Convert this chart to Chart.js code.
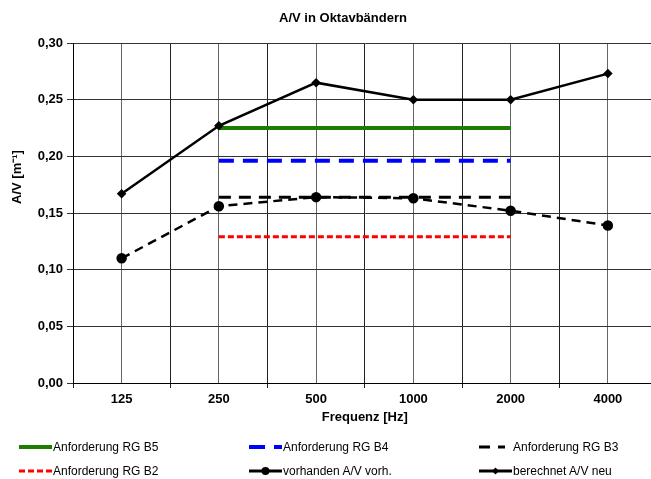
<!DOCTYPE html>
<html>
<head>
<meta charset="utf-8">
<script src="https://cdn.jsdelivr.net/npm/chart.js@4"></script>
<style>
  html, body { margin: 0; padding: 0; background: #fff; overflow: hidden; width: 651px; height: 479px; }
  #wrap { position: relative; width: 663px; height: 479px; }
  .leg { position: absolute; font: 12px "Liberation Sans", Arial, sans-serif; color: #000; display: flex; align-items: center; white-space: nowrap; }
  .leg svg { margin-right: 1px; }
</style>
</head>
<body>
<div id="wrap">
  <canvas id="avChart" width="663" height="479"></canvas>
  <div id="legend"></div>
</div>
<script>
// Frequenzbänder und Werte
const categories = ["125", "250", "500", "1000", "2000", "4000"];
const berechnetNeu = [0.167, 0.227, 0.265, 0.250, 0.250, 0.273];
const vorhandenVorh = [0.110, 0.156, 0.164, 0.163, 0.152, 0.139];
const rgB5 = [null, 0.225, 0.225, 0.225, 0.225, null];
const rgB4 = [null, 0.196, 0.196, 0.196, 0.196, null];
const rgB3 = [null, 0.164, 0.164, 0.164, 0.164, null];
const rgB2 = [null, 0.129, 0.129, 0.129, 0.129, null];

const toPoints = vals => categories.map((c, i) => ({ x: i, y: vals[i] }));
const FONT = "'Liberation Sans', Arial, sans-serif";

// Titel und Y-Achsentitel selbst zeichnen
const titlePlugin = {
    id: "titles",
    afterDraw(chart) {
        const ctx = chart.ctx;
        ctx.save();
        ctx.fillStyle = "#000";
        ctx.font = "bold 13px " + FONT;
        ctx.textAlign = "center";
        ctx.textBaseline = "middle";
        ctx.fillText("A/V in Oktavbändern", 343, 18);
        ctx.translate(17, 177);
        ctx.rotate(-Math.PI / 2);
        ctx.fillText("A/V [m⁻¹]", 0, 0);
        ctx.restore();
    }
};

const ctx = document.getElementById("avChart").getContext("2d");
new Chart(ctx, {
    type: "line",
    data: {
        datasets: [
            {
                label: "berechnet A/V neu",
                data: toPoints(berechnetNeu),
                borderColor: "#000",
                backgroundColor: "#000",
                borderWidth: 2.5,
                pointStyle: "rectRot",
                pointRadius: 3,
                tension: 0,
            },
            {
                label: "vorhanden A/V vorh.",
                data: toPoints(vorhandenVorh),
                borderColor: "#000",
                backgroundColor: "#000",
                borderWidth: 2.5,
                borderDash: [9, 6],
                pointStyle: "circle",
                pointRadius: 4,
                tension: 0,
            },
            {
                label: "Anforderung RG B5",
                data: toPoints(rgB5),
                borderColor: "#1e7d00",
                borderWidth: 4,
                pointRadius: 0,
            },
            {
                label: "Anforderung RG B4",
                data: toPoints(rgB4),
                borderColor: "#0000ff",
                borderWidth: 4,
                borderDash: [15, 9],
                pointRadius: 0,
            },
            {
                label: "Anforderung RG B3",
                data: toPoints(rgB3),
                borderColor: "#000",
                borderWidth: 3,
                borderDash: [12, 8],
                pointRadius: 0,
            },
            {
                label: "Anforderung RG B2",
                data: toPoints(rgB2),
                borderColor: "#ff0000",
                borderWidth: 3,
                borderDash: [6, 3],
                pointRadius: 0,
            },
        ],
    },
    options: {
        responsive: false,
        animation: false,
        layout: { padding: { left: 0, top: 43, right: 4, bottom: 46 } },
        plugins: {
            legend: { display: false },
            title: { display: false },
            tooltip: { enabled: false },
        },
        scales: {
            x: {
                type: "linear",
                min: -0.5,
                max: 5.5,
                afterFit: scale => { scale.height = 50; },
                ticks: {
                    stepSize: 0.5,
                    autoSkip: false,
                    maxRotation: 0,
                    padding: 4,
                    color: "#000",
                    font: { family: FONT, size: 13, weight: "bold" },
                    callback: v => Number.isInteger(v) ? categories[v] : "",
                },
                grid: {
                    color: c => c.tick && Number.isInteger(c.tick.value) ? "#666" : "#222",
                    tickColor: c => c.tick && Number.isInteger(c.tick.value) ? "rgba(0,0,0,0)" : "#222",
                    tickLength: 5,
                },
                border: { color: "#000" },
                title: {
                    display: true,
                    text: "Frequenz [Hz]",
                    color: "#000",
                    font: { family: FONT, size: 13, weight: "bold" },
                    padding: { top: 0, bottom: 8 },
                },
            },
            y: {
                min: 0,
                max: 0.3,
                afterFit: scale => { scale.width = 73; },
                ticks: {
                    stepSize: 0.05,
                    padding: 4,
                    color: "#000",
                    font: { family: FONT, size: 13, weight: "bold" },
                    callback: v => v.toFixed(2).replace(".", ","),
                },
                grid: { color: "#333", tickColor: "#333", tickLength: 6 },
                border: { color: "#000" },
            },
        },
    },
    plugins: [titlePlugin],
});

// Legende als HTML-Raster (3 Spalten, 2 Zeilen)
const legendItems = [
    { text: "Anforderung RG B5", color: "#1e7d00", width: 4, dash: "", marker: "" },
    { text: "Anforderung RG B4", color: "#0000ff", width: 4, dash: "16 9", marker: "" },
    { text: "Anforderung RG B3", color: "#000", width: 3, dash: "11 8", marker: "", textX: 513 },
    { text: "Anforderung RG B2", color: "#ff0000", width: 3, dash: "6 3", marker: "" },
    { text: "vorhanden A/V vorh.", color: "#000", width: 3, dash: "", marker: "circle" },
    { text: "berechnet A/V neu", color: "#000", width: 3, dash: "", marker: "diamond" },
];
const colX = [19, 249, 479];
const rowY = [447, 471];

document.getElementById("legend").innerHTML = legendItems.map((item, i) => {
    const col = i % 3, row = Math.floor(i / 3);
    const lineEnd = item.textX ? 26 : 33;
    let marker = "";
    if (item.marker === "circle") marker = `<circle cx="16.5" cy="7" r="4" fill="#000"/>`;
    if (item.marker === "diamond") marker = `<polygon points="16.5,3.5 20,7 16.5,10.5 13,7" fill="#000"/>`;
    const svgW = item.textX ? item.textX - colX[col] - 1 : 33;
    return `
        <div class="leg" style="left:${colX[col]}px; top:${rowY[row] - 8}px; height:16px;">
            <svg width="${svgW}" height="14">
                <line x1="0" y1="7" x2="${lineEnd}" y2="7" stroke="${item.color}" stroke-width="${item.width}" stroke-dasharray="${item.dash}"/>
                ${marker}
            </svg>
            <span>${item.text}</span>
        </div>`;
}).join("");
</script>
</body>
</html>
